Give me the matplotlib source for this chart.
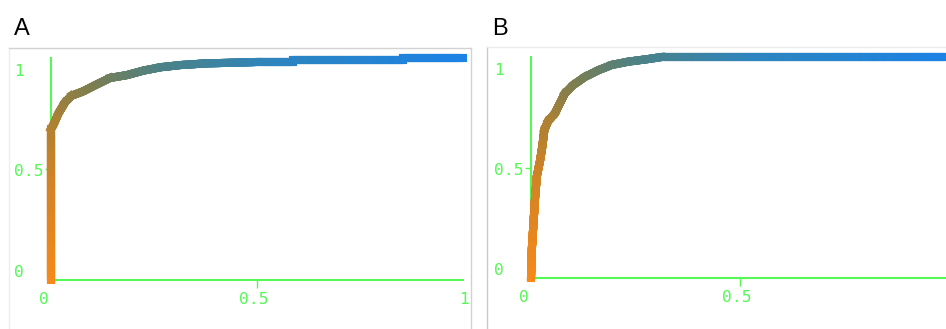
import numpy as np
import matplotlib
matplotlib.use("Agg")
import matplotlib.pyplot as plt
from matplotlib.collections import LineCollection
from matplotlib.lines import Line2D
from matplotlib.colors import LinearSegmentedColormap

W, H, DPI = 946, 329, 100

# ROC curves (false positive rate, true positive rate)
panel_labels = ["A", "B"]

fpr_a = [0.0, 0.0, 0.0, 0.006, 0.018, 0.034, 0.05, 0.078, 0.11, 0.143, 0.184,
         0.224, 0.265, 0.313, 0.378, 0.426, 0.5, 0.587, 0.587, 0.854, 0.854, 1.0]
tpr_a = [0.0, 0.35, 0.68, 0.70, 0.75, 0.80, 0.83, 0.85, 0.88, 0.91, 0.923,
         0.943, 0.958, 0.968, 0.976, 0.978, 0.982, 0.982, 0.993, 0.993, 1.0, 1.0]

fpr_b = [0.0, 0.002, 0.006, 0.010, 0.014, 0.022, 0.027, 0.032, 0.041, 0.057,
         0.069, 0.081, 0.101, 0.129, 0.161, 0.193, 0.233, 0.281, 0.313, 1.0]
tpr_b = [0.0, 0.13, 0.25, 0.37, 0.46, 0.535, 0.595, 0.67, 0.71, 0.745,
         0.79, 0.835, 0.873, 0.91, 0.94, 0.964, 0.979, 0.991, 1.0, 1.0]

tick_values = [0, 0.5, 1]
tick_labels = ["0", "0.5", "1"]
x_tick_values_b = [0, 0.5]
x_tick_labels_b = ["0", "0.5"]

# orange -> olive -> teal -> blue ramp along the curve
ramp = LinearSegmentedColormap.from_list("roc_ramp", [
    (0.00, (248 / 255, 137 / 255, 24 / 255)),
    (0.28, (205 / 255, 130 / 255, 40 / 255)),
    (0.40, (172 / 255, 129 / 255, 52 / 255)),
    (0.50, (122 / 255, 126 / 255, 82 / 255)),
    (0.60, (75 / 255, 130 / 255, 135 / 255)),
    (0.75, (45 / 255, 132 / 255, 190 / 255)),
    (1.00, (28 / 255, 130 / 255, 228 / 255)),
])
GREEN = "#55f855"
MONO = "DejaVu Sans Mono"

fig = plt.figure(figsize=(W / DPI, H / DPI), dpi=DPI)


def px_rect(x0, x1, y_top, y_bot):
    """Axes rectangle from pixel edges (y measured from the top)."""
    return [x0 / W, 1 - y_bot / H, (x1 - x0) / W, (y_bot - y_top) / H]


def gradient_curve(ax, fpr, tpr):
    x = np.asarray(fpr, float)
    y = np.asarray(tpr, float)
    seg_len = np.hypot(np.diff(x), np.diff(y))
    total = seg_len.sum()
    pts, ts = [], []
    s0 = 0.0
    for i in range(len(x) - 1):
        n = max(1, int(np.ceil(seg_len[i] / 0.004)))
        for k in range(n):
            a, b = k / n, (k + 1) / n
            p0 = (x[i] + a * (x[i + 1] - x[i]), y[i] + a * (y[i + 1] - y[i]))
            p1 = (x[i] + b * (x[i + 1] - x[i]), y[i] + b * (y[i + 1] - y[i]))
            pts.append([p0, p1])
            ts.append((s0 + (a + b) / 2 * seg_len[i]) / total)
        s0 += seg_len[i]
    colors = ramp(np.array(ts))
    lc = LineCollection(pts, colors=colors, linewidths=5.8,
                        capstyle="projecting", joinstyle="round",
                        clip_on=False, zorder=3)
    ax.add_collection(lc)
    ax.plot([x[0]], [y[0]], marker="x", ms=5, mew=1.2, color=ramp(0.0),
            clip_on=False, zorder=2)


def style_axes(ax, ax_w_px, ax_h_px, xvals, xlabels):
    ax.set_xlim(0, 1)
    ax.set_ylim(0, 1)
    for side in ("top", "right"):
        ax.spines[side].set_visible(False)
    for side in ("left", "bottom"):
        ax.spines[side].set_color(GREEN)
        ax.spines[side].set_linewidth(1.5)
    ax.set_xticks([0.5])
    ax.set_yticks([0.5])
    ax.tick_params(axis="x", length=6, width=1, color=GREEN, labelbottom=False)
    ax.tick_params(axis="y", length=4.5, width=1, color=GREEN, labelleft=False)
    ax.set_facecolor("none")
    for v, lab in zip(tick_values, tick_labels):
        ax.text(-37 / ax_w_px, 0.036 + 0.905 * v, lab, transform=ax.transAxes,
                ha="left", va="center", family=MONO, fontsize=11.8,
                color=GREEN, clip_on=False)
    for v, lab in zip(xvals, xlabels):
        ax.text(-0.017 + 1.019 * v, -20 / ax_h_px, lab, transform=ax.transAxes,
                ha="center", va="center", family=MONO, fontsize=11.8,
                color=GREEN, clip_on=False)


# panel frames
frame_lines = [
    ((9, 9), (48, 329), "#eeeeee"),
    ((9, 471), (48, 48), "#d2d2d2"),
    ((471, 471), (48, 329), "#d2d2d2"),
    ((487, 487), (47, 329), "#cacaca"),
    ((487, 946), (47, 47), "#ececec"),
]
for xs, ys, c in frame_lines:
    fig.add_artist(Line2D([v / W for v in xs], [1 - v / H for v in ys],
                          transform=fig.transFigure, color=c, lw=1))

# panel A
ax_a = fig.add_axes(px_rect(51, 463, 58, 280))
style_axes(ax_a, 412, 222, tick_values, tick_labels)
gradient_curve(ax_a, fpr_a, tpr_a)

# panel B
ax_b = fig.add_axes(px_rect(531, 949, 57, 278))
style_axes(ax_b, 418, 221, x_tick_values_b, x_tick_labels_b)
gradient_curve(ax_b, fpr_b, tpr_b)

for lab, xpx in zip(panel_labels, (14, 492)):
    fig.text(xpx / W, 1 - 35 / H, lab, fontsize=17, family="Liberation Sans",
             ha="left", va="baseline", color="black")

fig.savefig("out.png", dpi=DPI)
